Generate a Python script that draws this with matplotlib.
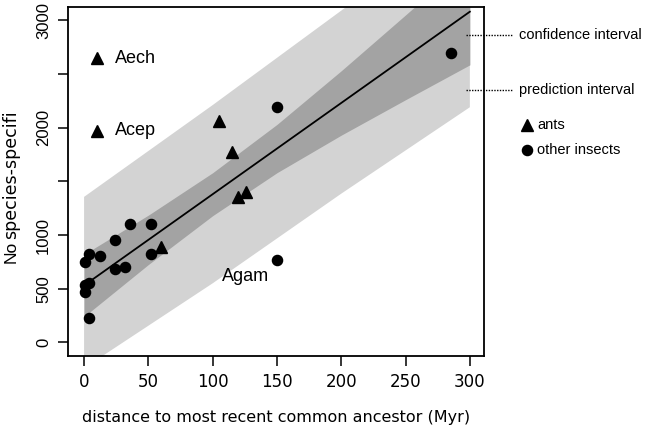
import numpy as np
import matplotlib
matplotlib.use("Agg")
import matplotlib.pyplot as plt

# points (Myr, count)
insect_x = [285, 150, 150, 1, 4, 12, 24, 36, 52, 52, 24, 32, 1, 4, 1, 4]
insect_y = [2697, 2188, 769, 753, 824, 809, 951, 1102, 1102, 821, 682, 704, 531, 556, 469, 231]
ant_x = [10, 10, 105, 115, 120, 126, 60]
ant_y = [2645, 1972, 2065, 1775, 1358, 1401, 892]

labels = ["Aech", "Acep", "Agam"]
label_x = [24, 24, 107]
label_y = [2645, 1972, 617]

# fitted line ends
fit_x = [0, 300]
fit_y = [530, 3080]

# confidence band edges
ci_x = [0, 50, 100, 150, 200, 250, 300]
ci_lo = [240, 725, 1180, 1580, 1930, 2260, 2585]
ci_hi = [820, 1185, 1580, 2030, 2530, 3050, 3575]

# prediction band edges
pi_x = [0, 100, 200, 300]
pi_lo = [-240, 550, 1385, 2190]
pi_hi = [1355, 2210, 3090, 3970]

xticks = [0, 50, 100, 150, 200, 250, 300]
yticks = [0, 500, 1000, 1500, 2000, 2500, 3000]
ytick_labels = ["0", "500", "1000", "", "2000", "", "3000"]

W, H = 647, 436
fig = plt.figure(figsize=(W / 100, H / 100), dpi=100)
ax = fig.add_axes([68 / W, 1 - 356 / H, (484 - 68) / W, (356 - 7.5) / H])

ax.fill_between(pi_x, pi_lo, pi_hi, color="#d3d3d3", lw=0, zorder=1)
ax.fill_between(ci_x, ci_lo, ci_hi, color="#a3a3a3", lw=0, zorder=2)
ax.plot(fit_x, fit_y, color="black", lw=1.3, zorder=3)

ax.plot(insect_x, insect_y, "o", color="black", ms=7.3, zorder=4)
ax.plot(ant_x, ant_y, "^", color="black", ms=8.5, zorder=4)

for t, x, y in zip(labels, label_x, label_y):
    ax.text(x, y, t, fontsize=13, family="Liberation Sans", va="center", ha="left")

ax.set_xlim(-12.5, 311)
ax.set_ylim(-127, 3119)
ax.set_xticks(xticks)
ax.set_xticklabels([str(v) for v in xticks], fontsize=12)
ax.set_yticks(yticks)
ax.set_yticklabels(ytick_labels, fontsize=12, family="Liberation Sans",
                   rotation=90, va="center")
ax.tick_params(direction="out", length=7.2, width=1.1, pad=5)
for s in ax.spines.values():
    s.set_linewidth(1.3)

ax.set_xlabel("distance to most recent common ancestor (Myr)", fontsize=11.5, labelpad=14)

# y label in two pieces, the second heavier
fig.text(11 / W, 1 - 263 / H, "No", rotation=90, ha="center", va="bottom",
         fontsize=12.5, family="Liberation Sans")
fig.text(11 / W, 1 - 239 / H, "species-specifi", rotation=90, ha="center", va="bottom",
         fontsize=12.5, family="DejaVu Sans")

# key on the right
for yy, txt in [(35, "confidence interval"), (90, "prediction interval")]:
    fig.add_artist(plt.Line2D([466 / W, 513 / W], [1 - yy / H, 1 - yy / H],
                              color="black", lw=1, ls=(0, (1, 1))))
    fig.text(519 / W, 1 - yy / H, txt, fontsize=10.5, family="Liberation Sans",
             va="center", ha="left")

fig.add_artist(plt.Line2D([527 / W], [1 - 125 / H], marker="^", color="black", ms=8.5))
fig.text(537 / W, 1 - 125 / H, "ants", fontsize=10.5, family="Liberation Sans", va="center")
fig.add_artist(plt.Line2D([527 / W], [1 - 150 / H], marker="o", color="black", ms=7.3))
fig.text(537 / W, 1 - 150 / H, "other insects", fontsize=10.5, family="Liberation Sans", va="center")

fig.savefig("out.png", dpi=100)
